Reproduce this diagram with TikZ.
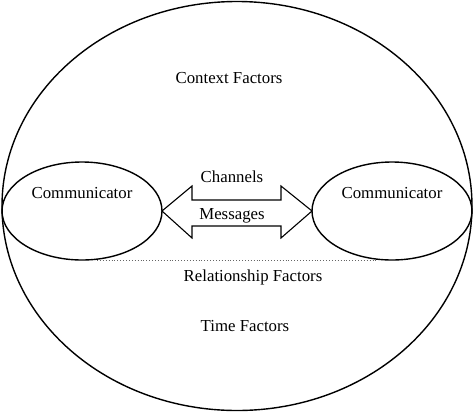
\documentclass[tikz,border=0pt]{standalone}
\usepackage{fontspec}
\setmainfont{Liberation Serif}
\usetikzlibrary{shapes.geometric}
\begin{document}
\begin{tikzpicture}[x=1pt,y=-1pt,
  oval/.style={draw,ellipse,line width=1.4pt,inner sep=0pt,outer sep=0pt},
  lbl/.style={font=\fontsize{16.8}{19}\selectfont,inner sep=0pt},
  arr/.style={draw,line width=1.1pt,line join=miter}]
\useasboundingbox (0,0) rectangle (474,413);
\node[oval,minimum width=470,minimum height=409] (outer) at (237,206) {};
\node[oval,minimum width=160,minimum height=98] (L) at (82,211) {};
\node[oval,minimum width=160,minimum height=98] (R) at (392,211) {};
\node[lbl] (lt) at (82,193) {Communicator};
\node[lbl] (rt) at (392,193) {Communicator};
\node[lbl] (ctx) at (229,78) {Context Factors};
\node[lbl] (rel) at (253,277) {Relationship Factors};
\node[lbl] (time) at (245,326) {Time Factors};
\node[lbl] (ch) at (232,177) {Channels};
\node[lbl] (msg) at (232,216) {Messages};
\draw[arr] (L.east) -- (192,186) -- (192,200) -- (281,200) -- (281,186) -- (R.west)
  -- (281,238) -- (281,226) -- (192,226) -- (192,238) -- cycle;
\draw[black!60,dotted,line width=0.9pt] ([xshift=15]L.south) -- ([xshift=-15]R.south);
\end{tikzpicture}
\end{document}
